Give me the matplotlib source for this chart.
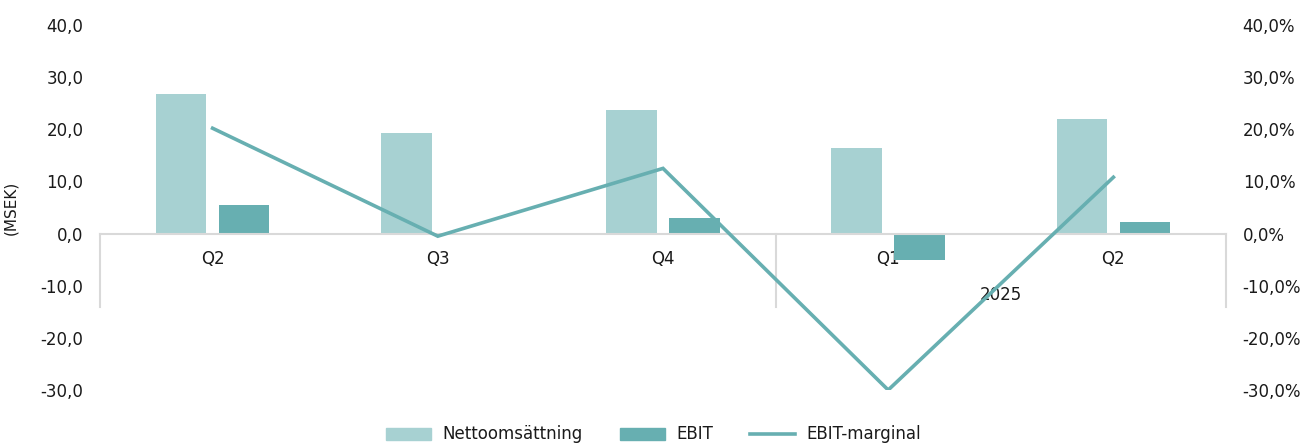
import numpy as np
import matplotlib.pyplot as plt
import matplotlib.transforms as mtransforms
from matplotlib.ticker import FuncFormatter

plt.rcParams['font.family'] = ['DejaVu Sans']

# data
quarters = ['Q2', 'Q3', 'Q4', 'Q1', 'Q2']
years = ['', '2025']
year_groups = [(0, 2), (3, 4)]
netto = [26.8, 19.3, 23.7, 16.5, 22.0]
ebit = [5.4, -0.1, 2.9, -5.0, 2.3]
marginal = [20.2, -0.5, 12.5, -30.0, 10.8]   # percent

c_netto = '#A7D1D2'
c_ebit = '#67AFB1'
c_line = '#67AFB1'
c_text = '#1a1a1a'
c_axis = '#D9D9D9'
fs = 12

fig = plt.figure(figsize=(13.07, 4.47), dpi=100)
ax = fig.add_axes([100/1307, 1-390/447, 1126/1307, 365/447])
ax2 = ax.twinx()

x = np.arange(len(quarters))
w = 0.225
ax.bar(x - 0.14, netto, w, color=c_netto, zorder=2)
ax.bar(x + 0.14, ebit, w, color=c_ebit, zorder=2)
ax2.plot(x, marginal, color=c_line, lw=2.6, solid_joinstyle='miter', zorder=3)

ax.set_xlim(-0.5, len(quarters) - 0.5)
ax.set_ylim(-30, 40)
ax2.set_ylim(-30, 40)
ax.set_yticks(np.arange(-30, 41, 10))
ax2.set_yticks(np.arange(-30, 41, 10))
ax.yaxis.set_major_formatter(FuncFormatter(lambda v, p: f'{v:.1f}'.replace('.', ',')))
ax2.yaxis.set_major_formatter(FuncFormatter(lambda v, p: f'{v:.1f}%'.replace('.', ',')))

for a in (ax, ax2):
    for s in ['top', 'left', 'right', 'bottom']:
        a.spines[s].set_visible(False)
    a.tick_params(axis='y', length=0, labelsize=fs, labelcolor=c_text, pad=12)

ax.spines['bottom'].set_visible(True)
ax.spines['bottom'].set_position(('data', 0))
ax.spines['bottom'].set_color(c_axis)
ax.spines['bottom'].set_linewidth(1.5)
ax.set_xticks(x)
ax.set_xticklabels(quarters)
ax.tick_params(axis='x', length=0, pad=12, labelsize=fs, labelcolor=c_text)
ax.set_ylabel('(MSEK)', fontsize=11, color=c_text)
ax.yaxis.set_label_coords(-0.073, 0.5)

# multi-level category separators
trans = mtransforms.blended_transform_factory(ax.transData, ax.transData)
for sx in [-0.5, 2.5, len(quarters) - 0.5]:
    ax.plot([sx, sx], [0, -14], color=c_axis, lw=1.5, transform=trans,
            clip_on=False, zorder=1)
for label, (a, b) in zip(years, year_groups):
    if label:
        ax.text((a + b) / 2, -11.8, label, ha='center', va='center',
                fontsize=fs, color=c_text)

handles = [plt.Rectangle((0, 0), 1, 1, color=c_netto),
           plt.Rectangle((0, 0), 1, 1, color=c_ebit),
           plt.Line2D([], [], color=c_line, lw=2.6)]
fig.legend(handles, ['Nettoomsättning', 'EBIT', 'EBIT-marginal'],
           loc='center', bbox_to_anchor=(0.5, 0.028), ncol=3, frameon=False,
           fontsize=fs, handlelength=2.7, handleheight=0.75, handletextpad=0.7,
           columnspacing=2.2, labelcolor=c_text, borderpad=0.2)

fig.savefig('out.png', dpi=100)
